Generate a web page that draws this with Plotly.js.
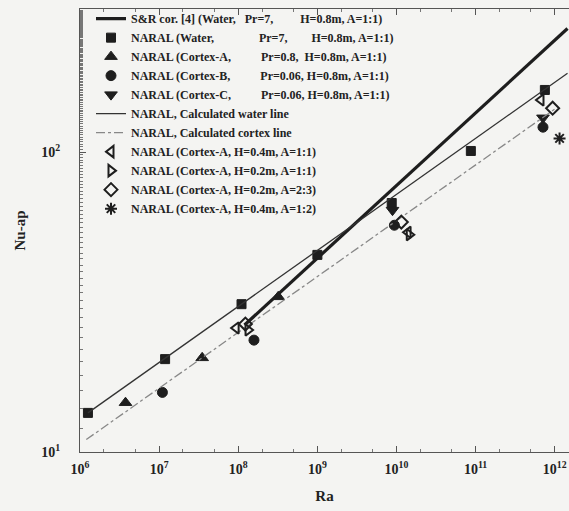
<!DOCTYPE html>
<html>
<head>
<meta charset="utf-8">
<script src="https://cdn.plot.ly/plotly-3.0.1.min.js"></script>
<style>html,body{margin:0;padding:0;background:#f4f4f2;}</style>
</head>
<body>
<div id="chart" style="width:569px;height:511px;"></div>
<script>
// ---- data ----
const srRa = [1.2e8, 1.45e12];
const srNu = [26.5, 258];

const waterLineRa = [1.26e6, 1.45e12];
const waterLineNu = [13.5, 183];

const cortexLineRa = [1.2e6, 1.0e12];
const cortexLineNu = [11, 139];

const waterRa = [1.26e6, 1.19e7, 1.1e8, 1.0e9, 8.7e9, 8.7e10, 7.5e11];
const waterNu = [13.5, 20.4, 31.1, 45.4, 67.6, 100.8, 161];

const cortexARa = [3.76e6, 3.5e7, 3.2e8];
const cortexANu = [14.6, 20.6, 32.9];

const cortexBRa = [1.1e7, 1.58e8, 9.4e9, 7.1e11];
const cortexBNu = [15.8, 23.6, 57, 121];

const cortexCRa = [8.9e9, 7.1e11];
const cortexCNu = [64, 130];

const aH04Ra = [9.4e7, 1.4e10, 6.7e11];
const aH04Nu = [25.9, 54, 149];

const aH02Ra = [1.33e8, 1.45e10];
const aH02Nu = [25.5, 53];

const aH02A23Ra = [1.23e8, 1.15e10, 9.4e11];
const aH02A23Nu = [26.7, 58.4, 140];

const aH04A12Ra = [1.15e12];
const aH04A12Nu = [111];

const xTickVals = [1e6, 1e7, 1e8, 1e9, 1e10, 1e11, 1e12];
const xTickText = ['10<sup>6</sup>', '10<sup>7</sup>', '10<sup>8</sup>', '10<sup>9</sup>', '10<sup>10</sup>', '10<sup>11</sup>', '10<sup>12</sup>'];
const yTickVals = [10, 100];
const yTickText = ['10<sup>1</sup>', '10<sup>2</sup>'];

const S = '\u00a0';
function sp(n) { return S.repeat(n); }
const names = [
  'S&R cor. [4] (Water, ' + sp(2) + 'Pr=7, ' + sp(8) + 'H=0.8m, A=1:1)',
  'NARAL (Water, ' + sp(14) + 'Pr=7, ' + sp(7) + 'H=0.8m, A=1:1)',
  'NARAL (Cortex-A, ' + sp(9) + 'Pr=0.8, ' + sp(1) + 'H=0.8m, A=1:1)',
  'NARAL (Cortex-B, ' + sp(9) + 'Pr=0.06, H=0.8m, A=1:1)',
  'NARAL (Cortex-C, ' + sp(9) + 'Pr=0.06, H=0.8m, A=1:1)',
  'NARAL, Calculated water line',
  'NARAL, Calculated cortex line',
  'NARAL (Cortex-A, H=0.4m, A=1:1)',
  'NARAL (Cortex-A, H=0.2m, A=1:1)',
  'NARAL (Cortex-A, H=0.2m, A=2:3)',
  'NARAL (Cortex-A, H=0.4m, A=1:2)'
];

const ink = '#1e1e1e';
function mk(sym, size, open) {
  return open ? {symbol: sym, size: size, color: ink, line: {color: ink, width: 2}}
              : {symbol: sym, size: size, color: ink, line: {color: ink, width: 1}};
}

const traces = [
  {x: srRa, y: srNu, mode: 'lines', name: names[0], line: {color: ink, width: 3.2}},
  {x: waterRa, y: waterNu, mode: 'markers', name: names[1], marker: mk('square', 9)},
  {x: cortexARa, y: cortexANu, mode: 'markers', name: names[2], marker: mk('triangle-up', 11)},
  {x: cortexBRa, y: cortexBNu, mode: 'markers', name: names[3], marker: mk('circle', 10)},
  {x: cortexCRa, y: cortexCNu, mode: 'markers', name: names[4], marker: mk('triangle-down', 11)},
  {x: waterLineRa, y: waterLineNu, mode: 'lines', name: names[5], line: {color: '#333', width: 1.3}},
  {x: cortexLineRa, y: cortexLineNu, mode: 'lines', name: names[6], line: {color: '#888', width: 1.3, dash: 'dashdot'}},
  {x: aH04Ra, y: aH04Nu, mode: 'markers', name: names[7], marker: mk('triangle-left-open', 10, true)},
  {x: aH02Ra, y: aH02Nu, mode: 'markers', name: names[8], marker: mk('triangle-right-open', 10, true)},
  {x: aH02A23Ra, y: aH02A23Nu, mode: 'markers', name: names[9], marker: mk('diamond-open', 10, true)},
  {x: aH04A12Ra, y: aH04A12Nu, mode: 'markers', name: names[10], marker: mk('asterisk-open', 10, true)}
];

const axisFont = {family: 'Liberation Serif, serif', size: 14, color: '#222', weight: 'bold'};

const layout = {
  width: 569, height: 511,
  margin: {l: 80, r: 0, t: 9, b: 59},
  paper_bgcolor: '#f4f4f2',
  plot_bgcolor: '#f4f4f2',
  showlegend: true,
  legend: {
    x: 0.0225, y: 1.011, xanchor: 'left', yanchor: 'top',
    bgcolor: 'rgba(0,0,0,0)', borderwidth: 0,
    font: {family: 'Liberation Serif, serif', size: 12, color: '#222', weight: 'bold'},
    itemwidth: 30
  },
  xaxis: {
    type: 'log', range: [6, 12.18],
    tickvals: xTickVals, ticktext: xTickText,
    ticks: 'inside', ticklen: 6, tickcolor: '#555',
    minor: {ticks: 'inside', ticklen: 3, tickcolor: '#777', showgrid: false},
    showline: true, linecolor: '#555', linewidth: 1, mirror: 'ticks',
    showgrid: false, zeroline: false,
    ticklabeloverflow: 'allow',
    ticklabelstandoff: 4,
    tickfont: axisFont,
    title: {text: 'Ra', font: {family: 'Liberation Serif, serif', size: 15, color: '#222', weight: 'bold'}, standoff: 14}
  },
  yaxis: {
    type: 'log', range: [1, 2.4767],
    tickvals: yTickVals, ticktext: yTickText,
    ticks: 'inside', ticklen: 6, tickcolor: '#555',
    minor: {ticks: 'inside', ticklen: 3, tickcolor: '#777', showgrid: false},
    showline: true, linecolor: '#555', linewidth: 1, mirror: false,
    showgrid: false, zeroline: false,
    ticklabelstandoff: 16,
    tickfont: axisFont,
    title: {text: 'Nu-ap', font: {family: 'Liberation Serif, serif', size: 15, color: '#222', weight: 'bold'}, standoff: 12}
  }
};

Plotly.newPlot('chart', traces, layout, {displayModeBar: false, staticPlot: true});
</script>
</body>
</html>
